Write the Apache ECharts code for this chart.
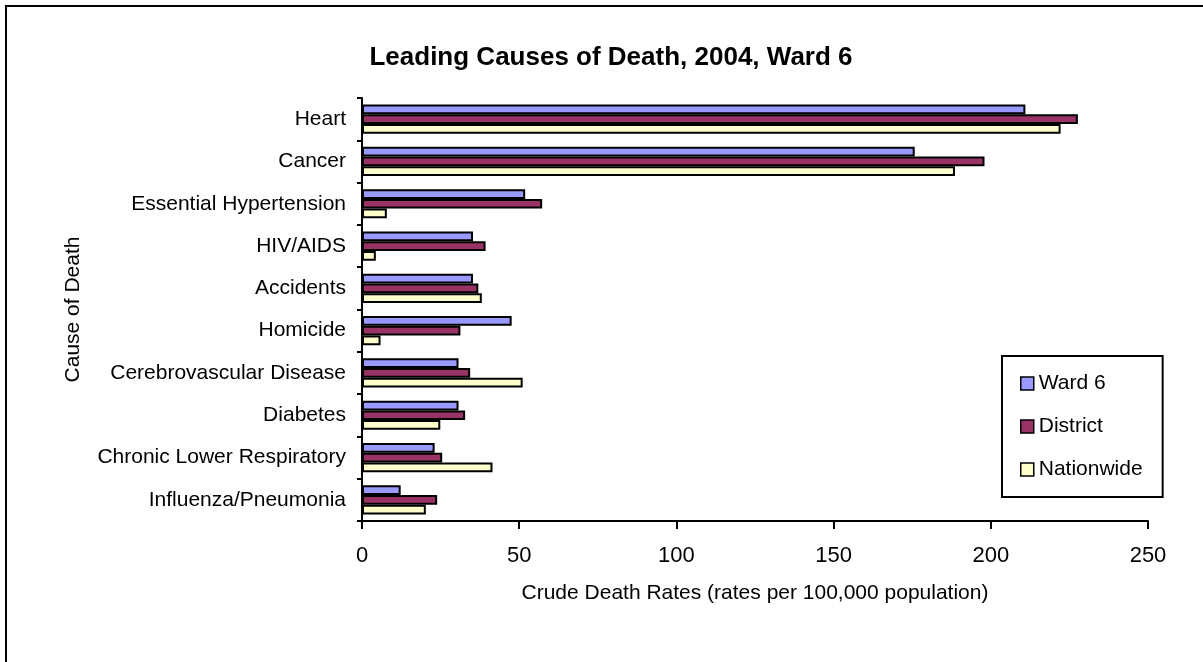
<!DOCTYPE html>
<html>
<head>
<meta charset="utf-8">
<script src="https://cdn.jsdelivr.net/npm/echarts@6/dist/echarts.min.js"></script>
<style>
html,body{margin:0;padding:0;background:#fff;}
#chart{width:1203px;height:662px;}
</style>
</head>
<body>
<div id="chart"></div>
<script>
const categories = ['Heart','Cancer','Essential Hypertension','HIV/AIDS','Accidents','Homicide','Cerebrovascular Disease','Diabetes','Chronic Lower Respiratory','Influenza/Pneumonia'];
const ward6 = [211, 175.8, 51.9, 35.3, 35.3, 47.6, 30.7, 30.7, 23.1, 12.3];
const district = [227.7, 198, 57.3, 39.3, 37.0, 31.3, 34.4, 32.8, 25.5, 23.9];
const nationwide = [222.2, 188.6, 7.9, 4.4, 38.1, 5.9, 51.1, 24.9, 41.5, 20.3];
const seriesNames = ['Ward 6','District','Nationwide'];
const xTicks = [0, 50, 100, 150, 200, 250];

const FONT = 'Liberation Sans, Arial, sans-serif';
const chart = echarts.init(document.getElementById('chart'), null, {renderer:'canvas'});
const mk = (name, data, color) => ({
  name, type:'bar', data,
  barGap:'0%', barCategoryGap:'31%',
  itemStyle:{color, borderColor:'#000', borderWidth:2},
  animation:false
});
chart.setOption({
  animation:false,
  backgroundColor:'#fff',
  textStyle:{fontFamily:FONT},
  title:{
    text:'Leading Causes of Death, 2004, Ward 6',
    left:606, top:40, textAlign:'center',
    textStyle:{fontFamily:FONT, fontSize:26, fontWeight:'bold', color:'#000'}
  },
  graphic:[{type:'rect', shape:{x:6, y:6, width:1400, height:900}, style:{fill:'none', stroke:'#000', lineWidth:2}, silent:true}],
  legend:{
    orient:'vertical', left:1002, top:356,
    data:seriesNames,
    icon:'rect', itemWidth:13, itemHeight:13, itemGap:22,
    padding:[17,20,17,18],
    borderColor:'#000', borderWidth:2,
    textStyle:{fontFamily:FONT, fontSize:21, color:'#000'},
    itemStyle:{borderColor:'#000', borderWidth:1.5}
  },
  grid:{left:362, right:55, top:98, bottom:141, containLabel:false},
  xAxis:{
    type:'value', min:xTicks[0], max:xTicks[xTicks.length-1], interval:50,
    name:'Crude Death Rates (rates per 100,000 population)',
    nameLocation:'middle', nameGap:62,
    nameTextStyle:{fontFamily:FONT, fontSize:21, color:'#000'},
    axisLine:{show:true, lineStyle:{color:'#000', width:2}},
    axisTick:{show:true, length:8, lineStyle:{color:'#000', width:2}},
    axisLabel:{fontFamily:FONT, fontSize:22, color:'#000', margin:24},
    splitLine:{show:false}
  },
  yAxis:{
    type:'category', data:categories, inverse:true,
    name:'Cause of Death', nameLocation:'middle', nameGap:278, nameRotate:90,
    nameTextStyle:{fontFamily:FONT, fontSize:21, color:'#000'},
    axisLine:{show:true, lineStyle:{color:'#000', width:2}},
    axisTick:{show:true, length:5, lineStyle:{color:'#000', width:2}},
    axisLabel:{fontFamily:FONT, fontSize:21, color:'#000', margin:16},
    splitLine:{show:false}
  },
  series:[
    mk(seriesNames[0], ward6, '#9999FF'),
    mk(seriesNames[1], district, '#993366'),
    mk(seriesNames[2], nationwide, '#FFFFCC')
  ]
});
</script>
</body>
</html>
